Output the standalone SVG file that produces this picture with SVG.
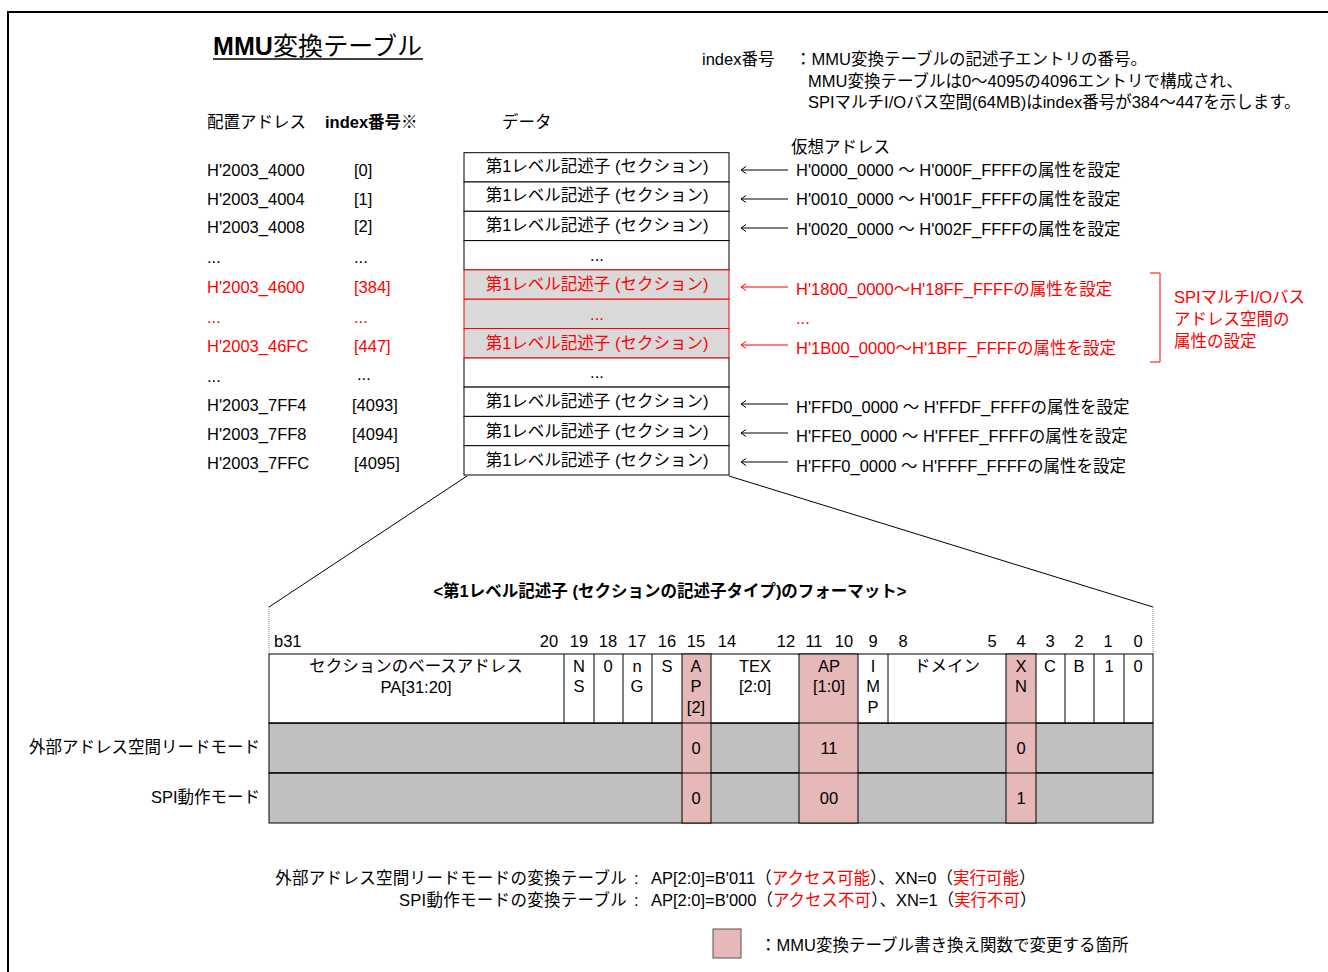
<svg xmlns="http://www.w3.org/2000/svg" width="1328" height="972" viewBox="0 0 1328 972">
<defs>
<style>
text{font-family:"Liberation Sans","Noto Sans CJK JP",sans-serif;font-size:16.5px;fill:#000}
.r{fill:#ff0000}
.b{font-weight:bold}
.c{text-anchor:middle}
.e{text-anchor:end}
.cell{fill:#fff;stroke:#000;stroke-width:1}
.rcell{fill:#d9d9d9;stroke:#ff0000;stroke-width:1}
.pk{fill:#e6b8b7;stroke:#000;stroke-width:1}
.gy{fill:#c0c0c0;stroke:#000;stroke-width:1}
.ln{stroke:#000;stroke-width:1;fill:none}
.arr{stroke:#000;stroke-width:1;fill:none;marker-end:url(#ah)}
.rarr{stroke:#ff0000;stroke-width:1;fill:none;marker-end:url(#rah)}
</style>
<marker id="ah" viewBox="-8 -5 10 10" refX="0" refY="0" markerWidth="10" markerHeight="10" markerUnits="userSpaceOnUse" orient="auto"><path d="M-5,-3.5 L0,0 L-5,3.5" fill="none" stroke="#000" stroke-width="1"/></marker>
<marker id="rah" viewBox="-8 -5 10 10" refX="0" refY="0" markerWidth="10" markerHeight="10" markerUnits="userSpaceOnUse" orient="auto"><path d="M-5,-3.5 L0,0 L-5,3.5" fill="none" stroke="#ff0000" stroke-width="1"/></marker>
</defs>
<rect x="0" y="0" width="1328" height="972" fill="#fff"/>
<rect x="8" y="12" width="1400" height="1000" fill="none" stroke="#000" stroke-width="2"/>

<g id="title">
<text x="213" y="55" style="font-size:25px" textLength="209" lengthAdjust="spacing"><tspan class="b">MMU</tspan>変換テーブル</text>
<line x1="213" y1="59" x2="423" y2="59" stroke="#000" stroke-width="1.5"/>
</g>

<g id="note">
<text x="702" y="65">index番号</text>
<text x="795" y="65">：MMU変換テーブルの記述子エントリの番号。</text>
<text x="808" y="87">MMU変換テーブルは0～4095の4096エントリで構成され、</text>
<text x="808" y="108">SPIマルチI/Oバス空間(64MB)はindex番号が384～447を示します。</text>
</g>

<g id="headers">
<text x="207" y="128">配置アドレス</text>
<text x="325" y="128" class="b">index番号※</text>
<text x="502" y="128">データ</text>
<text x="791" y="153">仮想アドレス</text>
</g>

<g id="addresses">
<text x="207" y="176">H'2003_4000</text><text x="354" y="176">[0]</text>
<text x="207" y="205">H'2003_4004</text><text x="354" y="205">[1]</text>
<text x="207" y="233">H'2003_4008</text><text x="354" y="232">[2]</text>
<text x="207" y="263">...</text><text x="354" y="263">...</text>
<text x="207" y="293" class="r">H'2003_4600</text><text x="354" y="293" class="r">[384]</text>
<text x="207" y="323" class="r">...</text><text x="354" y="323" class="r">...</text>
<text x="207" y="352" class="r">H'2003_46FC</text><text x="354" y="352" class="r">[447]</text>
<text x="207" y="382">...</text><text x="357" y="380">...</text>
<text x="207" y="411">H'2003_7FF4</text><text x="352" y="411">[4093]</text>
<text x="207" y="440">H'2003_7FF8</text><text x="352" y="440">[4094]</text>
<text x="207" y="469">H'2003_7FFC</text><text x="354" y="469">[4095]</text>
</g>

<g id="mmu-table">
<rect class="cell" x="464" y="152.7" width="265" height="29.3"/>
<rect class="cell" x="464" y="182" width="265" height="29.3"/>
<rect class="cell" x="464" y="211.3" width="265" height="29.3"/>
<rect class="cell" x="464" y="240.6" width="265" height="29.3"/>
<rect class="cell" x="464" y="357.8" width="265" height="29.3"/>
<rect class="cell" x="464" y="387.1" width="265" height="29.3"/>
<rect class="cell" x="464" y="416.4" width="265" height="29.3"/>
<rect class="cell" x="464" y="445.7" width="265" height="29.3"/>
<rect class="rcell" x="464" y="269.9" width="265" height="29.3"/>
<rect class="rcell" x="464" y="299.2" width="265" height="29.3"/>
<rect class="rcell" x="464" y="328.5" width="265" height="29.3"/>
<text x="597" y="172" class="c">第1レベル記述子 (セクション)</text>
<text x="597" y="201" class="c">第1レベル記述子 (セクション)</text>
<text x="597" y="231" class="c">第1レベル記述子 (セクション)</text>
<text x="597" y="261" class="c">...</text>
<text x="597" y="290" class="c r">第1レベル記述子 (セクション)</text>
<text x="597" y="320" class="c r">...</text>
<text x="597" y="349" class="c r">第1レベル記述子 (セクション)</text>
<text x="597" y="378" class="c">...</text>
<text x="597" y="407" class="c">第1レベル記述子 (セクション)</text>
<text x="597" y="437" class="c">第1レベル記述子 (セクション)</text>
<text x="597" y="466" class="c">第1レベル記述子 (セクション)</text>
</g>

<g id="virtual-addresses">
<text x="796" y="176">H'0000_0000 ～ H'000F_FFFFの属性を設定</text>
<text x="796" y="205">H'0010_0000 ～ H'001F_FFFFの属性を設定</text>
<text x="796" y="235">H'0020_0000 ～ H'002F_FFFFの属性を設定</text>
<text x="796" y="295" class="r">H'1800_0000～H'18FF_FFFFの属性を設定</text>
<text x="796" y="324" class="r">...</text>
<text x="796" y="354" class="r">H'1B00_0000～H'1BFF_FFFFの属性を設定</text>
<text x="796" y="413">H'FFD0_0000 ～ H'FFDF_FFFFの属性を設定</text>
<text x="796" y="442">H'FFE0_0000 ～ H'FFEF_FFFFの属性を設定</text>
<text x="796" y="472">H'FFF0_0000 ～ H'FFFF_FFFFの属性を設定</text>
</g>

<g id="spi-bracket">
<path d="M1150,273 H1160 V362 H1150" fill="none" stroke="#ff0000" stroke-width="1"/>
<text x="1174" y="303" class="r">SPIマルチI/Oバス</text>
<text x="1174" y="325" class="r">アドレス空間の</text>
<text x="1174" y="347" class="r">属性の設定</text>
</g>

<g id="connectors">
<path class="arr" d="M788,170 H741"/>
<path class="arr" d="M788,199 H741"/>
<path class="arr" d="M788,228 H741"/>
<path class="rarr" d="M788,287 H741"/>
<path class="rarr" d="M788,345 H741"/>
<path class="arr" d="M788,404 H741"/>
<path class="arr" d="M788,433 H741"/>
<path class="arr" d="M788,462 H741"/>
<path class="ln" d="M467,476 L269,607"/>
<path class="ln" d="M729,476 L1153,607"/>
<path d="M269,607 V654 M1153,607 V654" fill="none" stroke="#888" stroke-width="1" stroke-dasharray="1,1"/>
</g>

<g id="format-title">
<text x="670" y="597" class="c b">&lt;第1レベル記述子 (セクションの記述子タイプ)のフォーマット&gt;</text>
</g>

<g id="bit-numbers">
<text x="274" y="647">b31</text>
<text x="549" y="647" class="c">20</text>
<text x="579" y="647" class="c">19</text>
<text x="608" y="647" class="c">18</text>
<text x="637" y="647" class="c">17</text>
<text x="667" y="647" class="c">16</text>
<text x="696" y="647" class="c">15</text>
<text x="727" y="647" class="c">14</text>
<text x="786" y="647" class="c">12</text>
<text x="814" y="647" class="c">11</text>
<text x="844" y="647" class="c">10</text>
<text x="873" y="647" class="c">9</text>
<text x="903" y="647" class="c">8</text>
<text x="992" y="647" class="c">5</text>
<text x="1021" y="647" class="c">4</text>
<text x="1050" y="647" class="c">3</text>
<text x="1079" y="647" class="c">2</text>
<text x="1108" y="647" class="c">1</text>
<text x="1138" y="647" class="c">0</text>
</g>

<g id="bit-table">
<rect class="gy" x="269" y="723" width="884" height="50"/>
<rect class="gy" x="269" y="773" width="884" height="50"/>
<rect class="cell" x="269" y="654" width="884" height="69"/>
<rect class="pk" x="682" y="654" width="29" height="169"/>
<rect class="pk" x="799" y="654" width="59" height="169"/>
<rect class="pk" x="1006" y="654" width="30" height="169"/>
<line class="ln" x1="269" y1="723" x2="1153" y2="723"/>
<line class="ln" x1="269" y1="773" x2="1153" y2="773"/>
<path class="ln" d="M564,654 V723 M594,654 V723 M623,654 V723 M652,654 V723 M888,654 V723 M1065,654 V723 M1094,654 V723 M1124,654 V723"/>
<text x="416" y="672" class="c">セクションのベースアドレス</text>
<text x="416" y="693" class="c">PA[31:20]</text>
<text x="579" y="672" class="c">N</text><text x="579" y="692" class="c">S</text>
<text x="608" y="672" class="c">0</text>
<text x="637" y="672" class="c">n</text><text x="637" y="692" class="c">G</text>
<text x="667" y="672" class="c">S</text>
<text x="696" y="672" class="c">A</text><text x="696" y="692" class="c">P</text><text x="696" y="713" class="c">[2]</text>
<text x="755" y="672" class="c">TEX</text><text x="755" y="692" class="c">[2:0]</text>
<text x="829" y="672" class="c">AP</text><text x="829" y="692" class="c">[1:0]</text>
<text x="873" y="672" class="c">I</text><text x="873" y="692" class="c">M</text><text x="873" y="713" class="c">P</text>
<text x="947" y="672" class="c">ドメイン</text>
<text x="1021" y="672" class="c">X</text><text x="1021" y="692" class="c">N</text>
<text x="1050" y="672" class="c">C</text>
<text x="1079" y="672" class="c">B</text>
<text x="1109" y="672" class="c">1</text>
<text x="1138" y="672" class="c">0</text>
<text x="696" y="754" class="c">0</text>
<text x="829" y="754" class="c">11</text>
<text x="1021" y="754" class="c">0</text>
<text x="696" y="804" class="c">0</text>
<text x="829" y="804" class="c">00</text>
<text x="1021" y="804" class="c">1</text>
</g>

<g id="row-labels">
<text x="260" y="753" class="e">外部アドレス空間リードモード</text>
<text x="260" y="803" class="e">SPI動作モード</text>
</g>

<g id="summary">
<text x="627" y="884" class="e" style="letter-spacing:0.3px">外部アドレス空間リードモードの変換テーブル</text>
<text x="634" y="884">:</text>
<text x="651" y="884">AP[2:0]=B'011（<tspan class="r">アクセス可能</tspan>）、XN=0（<tspan class="r">実行可能</tspan>）</text>
<text x="627" y="906" class="e" style="letter-spacing:0.3px">SPI動作モードの変換テーブル</text>
<text x="634" y="906">:</text>
<text x="651" y="906">AP[2:0]=B'000（<tspan class="r">アクセス不可</tspan>）、XN=1（<tspan class="r">実行不可</tspan>）</text>
</g>

<g id="legend">
<rect x="713" y="929" width="28" height="29" fill="#e6b8b7" stroke="#555" stroke-width="1"/>
<text x="760" y="951">：MMU変換テーブル書き換え関数で変更する箇所</text>
</g>
</svg>
